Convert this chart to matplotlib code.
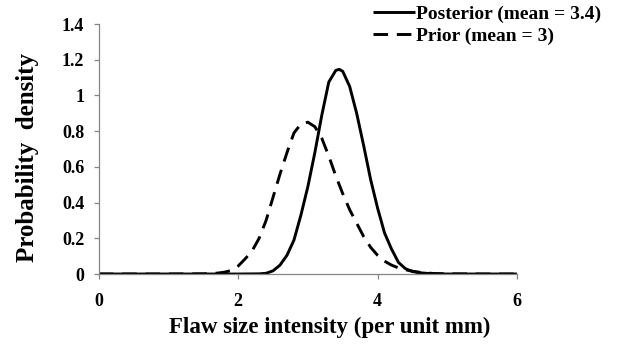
import matplotlib
matplotlib.use("Agg")
import matplotlib.pyplot as plt

x_post = [0, 0.5, 1.0, 1.5, 2.0, 2.3, 2.4, 2.5, 2.6, 2.7, 2.8, 2.9, 3.0, 3.1, 3.2, 3.3, 3.4, 3.45,
          3.5, 3.6, 3.7, 3.8, 3.9, 4.0, 4.1, 4.2, 4.3, 4.4, 4.5, 4.6, 4.8, 5.0, 5.5, 6.0]
y_post = [0, 0, 0, 0, 0, 0.001, 0.004, 0.018, 0.05, 0.105, 0.19, 0.33, 0.49, 0.68, 0.89, 1.075, 1.14, 1.146,
          1.135, 1.05, 0.90, 0.72, 0.53, 0.37, 0.23, 0.14, 0.065, 0.03, 0.014, 0.007, 0.001, 0, 0, 0]

x_prior = [0, 0.5, 1.0, 1.5, 1.6, 1.7, 1.8, 1.9, 2.0, 2.1, 2.2, 2.3, 2.4, 2.5, 2.6, 2.7, 2.8, 2.9,
           3.0, 3.1, 3.2, 3.3, 3.4, 3.5, 3.6, 3.7, 3.8, 3.9, 4.0, 4.1, 4.2, 4.3, 4.4, 4.5, 4.6,
           4.7, 4.8, 5.0, 5.5, 6.0]
y_prior = [0, 0, 0, 0.001, 0.003, 0.005, 0.01, 0.02, 0.045, 0.085, 0.13, 0.20, 0.30, 0.43, 0.56, 0.68,
           0.79, 0.84, 0.85, 0.825, 0.76, 0.66, 0.55, 0.45, 0.36, 0.285, 0.21, 0.15, 0.105, 0.072,
           0.05, 0.034, 0.024, 0.016, 0.01, 0.006, 0.003, 0.001, 0, 0]

x_ticks = [0, 2, 4, 6]
y_ticks = [0, 0.2, 0.4, 0.6, 0.8, 1.0, 1.2, 1.4]
y_tick_labels = ["0", "0.2", "0.4", "0.6", "0.8", "1", "1.2", "1.4"]

plt.rcParams['font.family'] = ['Liberation Serif', 'DejaVu Serif']
plt.rcParams['font.weight'] = 'bold'

fig = plt.figure(figsize=(6.18, 3.5), dpi=100)
ax = fig.add_axes([0.160, 0.2171, 0.6764, 0.7143])

ax.plot(x_post, y_post, color='black', lw=2.1, solid_capstyle='butt', solid_joinstyle='round',
        label='Posterior (mean = 3.4)')
ax.plot(x_prior, y_prior, color='black', lw=2.1, dashes=(5, 3),
        label='Prior (mean = 3)')

ax.set_xlim(0, 6)
ax.set_ylim(0, 1.4)
ax.set_xticks(x_ticks)
ax.set_xticklabels([str(t) for t in x_ticks])
ax.set_yticks(y_ticks)
ax.set_yticklabels(y_tick_labels)

for s in ['top', 'right']:
    ax.spines[s].set_visible(False)
for s in ['left', 'bottom']:
    ax.spines[s].set_color('#868686')
    ax.spines[s].set_linewidth(0.9)
ax.tick_params(axis='both', colors='#868686', length=3.6, width=0.9, labelsize=13,
               labelcolor='black')
ax.tick_params(axis='x', pad=10)
ax.tick_params(axis='y', pad=7)
for lab in ax.get_xticklabels() + ax.get_yticklabels():
    lab.set_fontweight('bold')

ax.set_xlabel('Flaw size intensity (per unit mm)', fontsize=16.5, fontweight='bold')
ax.xaxis.set_label_coords(0.553, -0.172)
ax.set_ylabel('Probability  density', fontsize=18, fontweight='bold')
ax.yaxis.set_label_coords(-0.143, 0.466)

leg = fig.legend(loc='upper left', bbox_to_anchor=(373 / 618, 1 - 5 / 350), frameon=False,
                 prop={'size': 14, 'weight': 'bold'}, handlelength=2.16,
                 handletextpad=0.05, labelspacing=0.22, borderaxespad=0, borderpad=0)

fig.savefig('out.png', dpi=100)
